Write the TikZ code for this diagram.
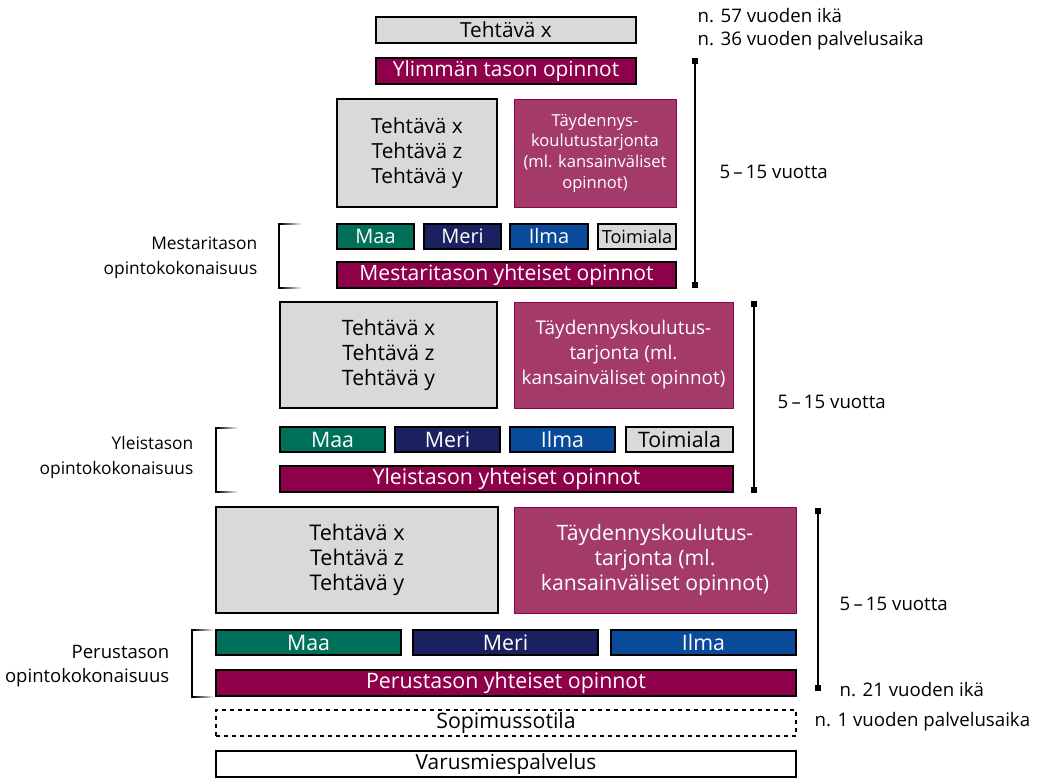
\documentclass[tikz,border=0pt]{standalone}
\usepackage{fontspec}
\setmainfont{Open Sans}
\definecolor{gr}{HTML}{D9D9D9}
\definecolor{maa}{HTML}{00705A}
\definecolor{meri}{HTML}{1B2160}
\definecolor{ilma}{HTML}{0A4A9A}
\definecolor{mag}{HTML}{8E0049}
\definecolor{lmag}{HTML}{A33A6A}
\newcommand\bx[7]{\node[#1, minimum width={(#4-#2)*0.75pt}, minimum height={(#5-#3)*0.75pt}] (#6) at ({(#2+#4)/2},{(#3+#5)/2}) {#7};}
\newcommand\fs[1]{\fontsize{#1}{18.75}\selectfont}
\begin{document}
\begin{tikzpicture}[x=0.75pt,y=-0.75pt,
  base/.style={draw=black, line width=0.9pt, inner sep=0pt, align=center},
  grbox/.style={base, fill=gr, text=black},
  bar/.style={base, text=white, font=\fs{16}},
  maabox/.style={bar, fill=maa},
  meribox/.style={bar, fill=meri},
  ilmabox/.style={bar, fill=ilma},
  magbox/.style={bar, fill=mag},
  toibox/.style={base, fill=gr, text=black, font=\fs{16}},
  lmagbox/.style={draw=mag, line width=0.6pt, fill=lmag, text=white, inner sep=0pt, align=center},
  side/.style={font=\fs{13}, align=right, anchor=east},
  note/.style={font=\fs{14}, anchor=west},
  span/.style={line width=0.9pt},
  endsq/.style={fill=black, minimum size=4.5pt, inner sep=0pt},
  brk/.style={line width=0.8pt}]
\useasboundingbox (0,0) rectangle (1044,780);
% top
\bx{grbox, font=\fs{15.6}}{376}{17}{636}{43}{t0}{Tehtävä x}
\bx{magbox, font=\fs{15.6}}{376}{58}{636}{84}{ylin}{Ylimmän tason opinnot}
% level 3
\bx{grbox, font=\fs{15.6}}{337}{99}{497}{207}{g3}{Tehtävä x\\Tehtävä z\\Tehtävä y}
\bx{lmagbox, font=\fontsize{12.4}{15.5}\selectfont}{514}{99}{676}{207}{m3}{Täydennys-\\koulutustarjonta\\(ml. kansainväliset\\opinnot)}
\bx{maabox, font=\fs{15}}{337}{224}{414}{249}{maa3}{Maa}
\bx{meribox, font=\fs{15}}{424}{224}{501}{249}{meri3}{Meri}
\bx{ilmabox, font=\fs{15}}{510}{224}{588}{249}{ilma3}{Ilma}
\bx{toibox, font=\fs{13.6}}{598}{224}{676}{249}{toi3}{Toimiala}
\bx{magbox, font=\fs{15.8}}{337}{262}{676}{288}{y3}{Mestaritason yhteiset opinnot}
% level 2
\bx{grbox, font=\fs{15.9}}{280}{302}{497}{408}{g2}{Tehtävä x\\Tehtävä z\\Tehtävä y}
\bx{lmagbox, font=\fs{14.2}}{514}{302}{733}{408}{m2}{Täydennyskoulutus-\\tarjonta (ml.\\kansainväliset opinnot)}
\bx{maabox}{280}{427}{385}{452}{maa2}{Maa}
\bx{meribox}{395}{427}{500}{452}{meri2}{Meri}
\bx{ilmabox}{510}{427}{615}{452}{ilma2}{Ilma}
\bx{toibox}{626}{427}{733}{452}{toi2}{Toimiala}
\bx{magbox}{280}{466}{733}{492}{y2}{Yleistason yhteiset opinnot}
% level 1
\bx{grbox, font=\fs{16.2}}{216}{507}{498}{613}{g1}{Tehtävä x\\Tehtävä z\\Tehtävä y}
\bx{lmagbox, font=\fs{15.9}}{514}{507}{796}{613}{m1}{Täydennyskoulutus-\\tarjonta (ml.\\kansainväliset opinnot)}
\bx{maabox}{216}{630}{401}{655}{maa1}{Maa}
\bx{meribox}{413}{630}{598}{655}{meri1}{Meri}
\bx{ilmabox}{611}{630}{796}{655}{ilma1}{Ilma}
\bx{magbox}{216}{670}{796}{696}{y1}{Perustason yhteiset opinnot}
\bx{base, dashed, font=\fs{16}}{216}{710}{796}{736}{sop}{Sopimussotila}
\bx{base, font=\fs{15.6}}{216}{751}{796}{777}{var}{Varusmiespalvelus}
% brackets
\draw[brk] (281,224) -- (279,224) -- (279,288) -- (281,288);
\shade[left color=black, right color=white] (280,223.4) rectangle (302,224.6);
\shade[left color=black, right color=white] (280,287.4) rectangle (302,288.6);
\draw[brk] (218,428) -- (216,428) -- (216,492) -- (218,492);
\shade[left color=black, right color=white] (217,427.4) rectangle (238,428.6);
\shade[left color=black, right color=white] (217,491.4) rectangle (238,492.6);
\draw[brk] (194,630) -- (192,630) -- (192,697) -- (194,697);
\shade[left color=black, right color=white] (193,629.4) rectangle (214,630.6);
\shade[left color=black, right color=white] (193,696.4) rectangle (214,697.6);
\node[side] (l3) at (262,258) {Mestaritason\\opintokokonaisuus};
\node[side] (l2) at (198,457) {Yleistason\\opintokokonaisuus};
\node[side, font=\fontsize{13.9}{17.5}\selectfont] (l1) at (174,666) {Perustason\\opintokokonaisuus};
% spans
\coordinate (s3a) at (695,61); \coordinate (s3b) at (695,285);
\coordinate (s2a) at (754,304); \coordinate (s2b) at (754,490);
\coordinate (s1a) at (818,511); \coordinate (s1b) at (818,688);
\foreach \a/\b in {s3a/s3b,s2a/s2b,s1a/s1b}{
  \draw[span] (\a) -- (\b);
  \node[endsq] at (\a) {}; \node[endsq] at (\b) {};
}
\node[note] (d3) at (715,172) {5\,–\,15 vuotta};
\node[note] (d2) at (773,402) {5\,–\,15 vuotta};
\node[note] (d1) at (835,604) {5\,–\,15 vuotta};
\node[note] (n57) at (693,16) {n. 57 vuoden ikä};
\node[note] (n36) at (693,41) {n. 36 vuoden palvelusaika};
\node[note] (n21) at (835,690) {n. 21 vuoden ikä};
\node[note] (n1) at (810,722) {n. 1 vuoden palvelusaika};
\end{tikzpicture}
\end{document}
